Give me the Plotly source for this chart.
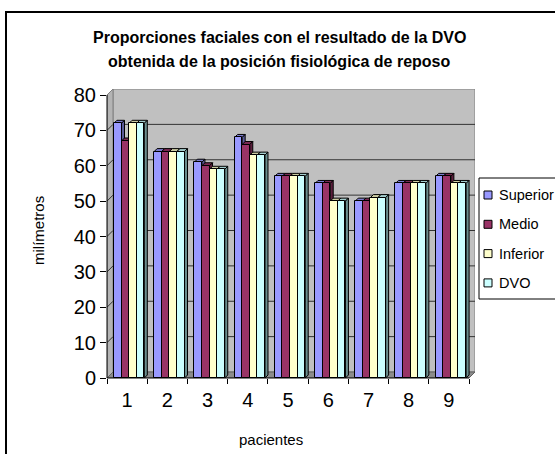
import plotly.graph_objects as go

# --- data -------------------------------------------------------------
pacientes = ["1", "2", "3", "4", "5", "6", "7", "8", "9"]
superior = [72, 64, 61, 68, 57, 55, 50, 55, 57]
medio = [67, 64, 60, 66, 57, 55, 50, 55, 57]
inferior = [72, 64, 59, 63, 57, 50, 51, 55, 55]
dvo = [72, 64, 59, 63, 57, 50, 51, 55, 55]
series_names = ["Superior", "Medio", "Inferior", "DVO"]
y_ticks = [0, 10, 20, 30, 40, 50, 60, 70, 80]

titulo_1 = "Proporciones faciales con el resultado de la DVO"
titulo_2 = "obtenida de la posición fisiológica de reposo"
eje_x = "pacientes"
eje_y = "milímetros"

# --- styling ----------------------------------------------------------
FONT = "Liberation Sans, Arial, sans-serif"
front_colors = ["#9999FF", "#993366", "#FFFFCC", "#CCFFFF"]
top_colors = ["#7A7ACC", "#7A2952", "#CCCCA3", "#A3CCCC"]
side_colors = ["#5C5C99", "#5C1F3D", "#99997A", "#6B8F8F"]

FIG_W, FIG_H = 555, 454
PLOT_L, PLOT_R, PLOT_T, PLOT_B = 107, 475, 89, 378   # plotting area (px)
WALL_D = 6      # depth of the walls/floor in px
BAR_D = 3       # depth of each column in px
Y_MAX = 80

# legend box (px)
LEG_L, LEG_T, LEG_B = 479, 178, 299
LEG_ROW0, LEG_ROW_STEP = 195, 29.3
LEG_SYM_X, LEG_SYM = 488, 8
LEG_TEXT_X = 497
LEG_FONT = 14.5

cat_px = (PLOT_R - WALL_D - PLOT_L) / len(pacientes)
unit_px = (PLOT_B - (PLOT_T + WALL_D)) / Y_MAX
wdx, wdy = WALL_D / cat_px, WALL_D / unit_px
bdx, bdy = BAR_D / cat_px, BAR_D / unit_px

x_lo, x_hi = 0.5, len(pacientes) + 0.5
x_pos = list(range(1, len(pacientes) + 1))

BW = 7.6 / cat_px                    # column width (category units)
OFF0 = (6.9 - cat_px / 2) / cat_px   # offset of the first column


def pxx(px):
    return (px - PLOT_L) / (PLOT_R - PLOT_L)


def pxy(py):
    return (PLOT_B - py) / (PLOT_B - PLOT_T)


def poly(pts):
    return "M " + " L ".join(f"{x},{y}" for x, y in pts) + " Z"


series = [superior, medio, inferior, dvo]

fig = go.Figure()
for i, (name, vals) in enumerate(zip(series_names, series)):
    fig.add_trace(go.Bar(
        x=x_pos, y=vals, name=name,
        width=BW, offset=OFF0 + i * BW,
        marker=dict(color=front_colors[i], line=dict(color="black", width=1)),
        showlegend=False,
        hovertemplate=name + " %{x}: %{y}<extra></extra>",
    ))

shapes = []
# back wall
shapes.append(dict(type="rect", xref="x", yref="y", layer="below",
                   x0=x_lo + wdx, x1=x_hi + wdx, y0=wdy, y1=Y_MAX + wdy,
                   fillcolor="#C0C0C0", line=dict(color="#808080", width=1)))
# left side wall
shapes.append(dict(type="path", xref="x", yref="y", layer="below",
                   path=poly([(x_lo, 0), (x_lo + wdx, wdy), (x_lo + wdx, Y_MAX + wdy), (x_lo, Y_MAX)]),
                   fillcolor="#B4B4B4", line=dict(color="#808080", width=1)))
# floor
shapes.append(dict(type="path", xref="x", yref="y", layer="below",
                   path=poly([(x_lo, 0), (x_hi, 0), (x_hi + wdx, wdy), (x_lo + wdx, wdy)]),
                   fillcolor="#8C8C8C", line=dict(color="#606060", width=1)))
# gridlines on the walls
for v in y_ticks[1:-1]:
    shapes.append(dict(type="line", xref="x", yref="y", layer="below",
                       x0=x_lo + wdx, x1=x_hi + wdx, y0=v + wdy, y1=v + wdy,
                       line=dict(color="#333333", width=1)))
    shapes.append(dict(type="line", xref="x", yref="y", layer="below",
                       x0=x_lo, x1=x_lo + wdx, y0=v, y1=v + wdy,
                       line=dict(color="#333333", width=1)))
# top and side faces of the columns
for c, xc in enumerate(x_pos):
    for i, vals in enumerate(series):
        v = vals[c]
        x0 = xc + OFF0 + i * BW
        x1 = x0 + BW
        shapes.append(dict(type="path", xref="x", yref="y", layer="below",
                           path=poly([(x0, v), (x1, v), (x1 + bdx, v + bdy), (x0 + bdx, v + bdy)]),
                           fillcolor=top_colors[i], line=dict(color="black", width=1)))
        shapes.append(dict(type="path", xref="x", yref="y", layer="below",
                           path=poly([(x1, 0), (x1 + bdx, bdy), (x1 + bdx, v + bdy), (x1, v)]),
                           fillcolor=side_colors[i], line=dict(color="black", width=1)))
# front axis lines
shapes.append(dict(type="line", xref="paper", yref="paper", layer="above",
                   x0=0, x1=0, y0=0, y1=pxy(PLOT_B - Y_MAX * unit_px),
                   line=dict(color="black", width=1)))
shapes.append(dict(type="line", xref="paper", yref="paper", layer="above",
                   x0=0, x1=pxx(PLOT_R - WALL_D), y0=0, y1=0,
                   line=dict(color="black", width=1)))
# chart frame
shapes.append(dict(type="rect", xref="paper", yref="paper", layer="below",
                   x0=pxx(6), x1=pxx(FIG_W + 10), y0=pxy(12), y1=pxy(FIG_H + 10),
                   line=dict(color="black", width=2)))

annotations = [
    dict(text=f"<b>{titulo_1}</b>", x=pxx(279), y=pxy(38), xref="paper", yref="paper",
         showarrow=False, xanchor="center", yanchor="middle",
         font=dict(family=FONT, size=16, color="black")),
    dict(text=f"<b>{titulo_2}</b>", x=pxx(279), y=pxy(61.5), xref="paper", yref="paper",
         showarrow=False, xanchor="center", yanchor="middle",
         font=dict(family=FONT, size=16, color="black")),
    dict(text=eje_x, x=pxx(271), y=pxy(439), xref="paper", yref="paper",
         showarrow=False, xanchor="center", yanchor="middle",
         font=dict(family=FONT, size=15, color="black")),
    dict(text=eje_y, x=pxx(38), y=pxy(231), xref="paper", yref="paper",
         showarrow=False, xanchor="center", yanchor="middle", textangle=-90,
         font=dict(family=FONT, size=15, color="black")),
]

# legend: framed box with a colour key and the series names
shapes.append(dict(type="rect", xref="paper", yref="paper", layer="above",
                   x0=pxx(LEG_L), x1=pxx(FIG_W + 10), y0=pxy(LEG_B), y1=pxy(LEG_T),
                   fillcolor="white", line=dict(color="black", width=1)))
for i, name in enumerate(series_names):
    cy = LEG_ROW0 + i * LEG_ROW_STEP
    shapes.append(dict(type="rect", xref="paper", yref="paper", layer="above",
                       x0=pxx(LEG_SYM_X - LEG_SYM / 2), x1=pxx(LEG_SYM_X + LEG_SYM / 2),
                       y0=pxy(cy + LEG_SYM / 2), y1=pxy(cy - LEG_SYM / 2),
                       fillcolor=front_colors[i], line=dict(color="black", width=1)))
    annotations.append(dict(text=name, x=pxx(LEG_TEXT_X), y=pxy(cy), xref="paper", yref="paper",
                            showarrow=False, xanchor="left", yanchor="middle",
                            font=dict(family=FONT, size=LEG_FONT, color="black")))

fig.update_layout(
    width=FIG_W, height=FIG_H,
    margin=dict(l=PLOT_L, r=FIG_W - PLOT_R, t=PLOT_T, b=FIG_H - PLOT_B, pad=0, autoexpand=False),
    paper_bgcolor="white", plot_bgcolor="white",
    barmode="overlay", bargap=0,
    font=dict(family=FONT, color="black"),
    shapes=shapes, annotations=annotations,
    showlegend=False,
    xaxis=dict(range=[x_lo, x_hi + wdx], tickmode="array", tickvals=x_pos, ticktext=pacientes,
               ticks="", showgrid=False, zeroline=False, showline=False,
               tickfont=dict(family=FONT, size=20, color="black"), ticklabelstandoff=8,
               minor=dict(ticks="outside", tick0=0.5, dtick=1, ticklen=5, tickcolor="black",
                          showgrid=False),
               fixedrange=True),
    yaxis=dict(range=[0, Y_MAX + wdy], tickmode="array", tickvals=y_ticks,
               ticks="outside", ticklen=6, tickcolor="black",
               showgrid=False, zeroline=False, showline=False,
               tickfont=dict(family=FONT, size=20, color="black"),
               fixedrange=True),
)

fig.write_html("out.html", config={"displayModeBar": False})
